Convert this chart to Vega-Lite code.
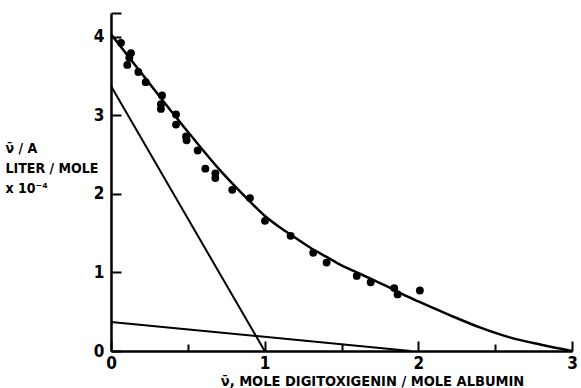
{
  "$schema": "https://vega.github.io/schema/vega-lite/v6.json",
  "width": 461,
  "height": 338,
  "autosize": "none",
  "padding": {"left": 111, "top": 13, "right": 9, "bottom": 37},
  "background": "white",
  "config": {
    "view": {"stroke": null},
    "font": "Liberation Sans Narrow, DejaVu Sans Condensed, sans-serif"
  },
  "datasets": {
    "obs": [
      {"nu": 0.065, "ratio": 3.92},
      {"nu": 0.13, "ratio": 3.79},
      {"nu": 0.119, "ratio": 3.73},
      {"nu": 0.106, "ratio": 3.64},
      {"nu": 0.178, "ratio": 3.55},
      {"nu": 0.226, "ratio": 3.42},
      {"nu": 0.332, "ratio": 3.25},
      {"nu": 0.325, "ratio": 3.14},
      {"nu": 0.325, "ratio": 3.08},
      {"nu": 0.423, "ratio": 3.01},
      {"nu": 0.423, "ratio": 2.88},
      {"nu": 0.488, "ratio": 2.73},
      {"nu": 0.492, "ratio": 2.68},
      {"nu": 0.564, "ratio": 2.55},
      {"nu": 0.614, "ratio": 2.32},
      {"nu": 0.679, "ratio": 2.26},
      {"nu": 0.679, "ratio": 2.2},
      {"nu": 0.789, "ratio": 2.05},
      {"nu": 0.904, "ratio": 1.945},
      {"nu": 1.002, "ratio": 1.656},
      {"nu": 1.169, "ratio": 1.465},
      {"nu": 1.316, "ratio": 1.25},
      {"nu": 1.403, "ratio": 1.125},
      {"nu": 1.599, "ratio": 0.955},
      {"nu": 1.69, "ratio": 0.875},
      {"nu": 1.843, "ratio": 0.8},
      {"nu": 1.865, "ratio": 0.72},
      {"nu": 2.01, "ratio": 0.77}
    ],
    "curve": [
      {"nu": 0.0, "ratio": 4.03},
      {"nu": 0.1, "ratio": 3.78},
      {"nu": 0.2, "ratio": 3.53},
      {"nu": 0.3, "ratio": 3.28},
      {"nu": 0.4, "ratio": 3.03},
      {"nu": 0.5, "ratio": 2.79},
      {"nu": 0.6, "ratio": 2.55},
      {"nu": 0.7, "ratio": 2.32},
      {"nu": 0.8, "ratio": 2.11},
      {"nu": 0.9, "ratio": 1.91},
      {"nu": 1.0, "ratio": 1.72},
      {"nu": 1.1, "ratio": 1.57},
      {"nu": 1.2, "ratio": 1.44},
      {"nu": 1.3, "ratio": 1.31},
      {"nu": 1.4, "ratio": 1.2},
      {"nu": 1.5, "ratio": 1.09},
      {"nu": 1.6, "ratio": 1.0},
      {"nu": 1.7, "ratio": 0.91},
      {"nu": 1.8, "ratio": 0.82},
      {"nu": 1.9, "ratio": 0.72},
      {"nu": 2.0, "ratio": 0.63},
      {"nu": 2.2, "ratio": 0.46},
      {"nu": 2.4, "ratio": 0.3},
      {"nu": 2.6, "ratio": 0.17},
      {"nu": 2.8, "ratio": 0.08},
      {"nu": 3.0, "ratio": 0.0}
    ],
    "sites": [
      {"cls": "high", "nu": 0.0, "ratio": 3.37},
      {"cls": "high", "nu": 1.0, "ratio": 0.0},
      {"cls": "low", "nu": 0.0, "ratio": 0.37},
      {"cls": "low", "nu": 1.95, "ratio": 0.0}
    ]
  },
  "encoding": {
    "x": {
      "field": "nu",
      "type": "quantitative",
      "scale": {"domain": [0, 3], "nice": false, "zero": false},
      "axis": {
        "values": [0, 0.5, 1, 1.5, 2, 2.5, 3],
        "labelExpr": "datum.value % 1 === 0 ? format(datum.value, 'd') : ''",
        "domainColor": "black",
        "domainWidth": 2.5,
        "tickColor": "black",
        "tickWidth": 2,
        "tickSize": {"condition": {"test": "datum.value % 1 !== 0", "value": -7}, "value": -10},
        "labelPadding": 14,
        "labelFontSize": 17,
        "labelFontWeight": "bold",
        "labelColor": "black",
        "labelFlush": false,
        "labelOverlap": false,
        "grid": false,
        "title": "ν̄, MOLE DIGITOXIGENIN / MOLE ALBUMIN",
        "titleFontSize": 14.5,
        "titleFontWeight": "bold",
        "titleColor": "black",
        "titleX": 261,
        "titleY": 34,
        "titleAlign": "center",
        "titleBaseline": "alphabetic"
      }
    },
    "y": {
      "field": "ratio",
      "type": "quantitative",
      "scale": {"domain": [0, 4.3], "nice": false, "zero": false},
      "axis": {
        "values": [0, 1, 2, 3, 4, 4.3],
        "labelExpr": "datum.value % 1 === 0 ? format(datum.value, 'd') : ''",
        "domainColor": "black",
        "domainWidth": 2.5,
        "tickColor": "black",
        "tickWidth": 2,
        "tickSize": -10,
        "labelPadding": 17,
        "labelFontSize": 17,
        "labelFontWeight": "bold",
        "labelColor": "black",
        "labelFlush": false,
        "labelOverlap": false,
        "grid": false,
        "title": ["ν̄ / A", "LITER / MOLE", "x 10⁻⁴"],
        "titleFontSize": 14,
        "titleFontWeight": "bold",
        "titleColor": "black",
        "titleAngle": 0,
        "titleAlign": "left",
        "titleBaseline": "top",
        "titleLineHeight": 20,
        "titleX": -106,
        "titleY": 128
      }
    }
  },
  "layer": [
    {
      "data": {"name": "sites"},
      "mark": {"type": "line", "color": "black", "strokeWidth": 2},
      "encoding": {"detail": {"field": "cls"}}
    },
    {
      "data": {"name": "curve"},
      "mark": {"type": "line", "color": "black", "strokeWidth": 2.5, "interpolate": "monotone"}
    },
    {
      "data": {"name": "obs"},
      "mark": {"type": "circle", "color": "black", "opacity": 1, "size": 62}
    }
  ]
}
